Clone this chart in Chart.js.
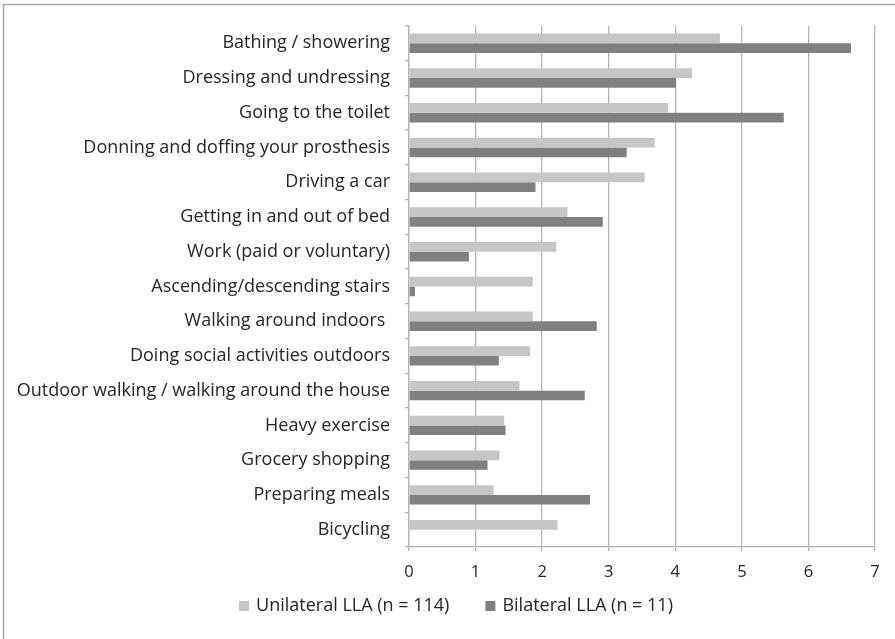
<!DOCTYPE html>
<html>
<head>
<meta charset="utf-8">
<script src="https://cdn.jsdelivr.net/npm/chart.js@4.4.1/dist/chart.umd.min.js"></script>
<style>
  html, body { margin: 0; padding: 0; background: #ffffff; }
  #wrap { position: relative; width: 895px; height: 639px; }
</style>
</head>
<body>
<div id="wrap"><canvas id="chart" width="895" height="639"></canvas></div>
<script>
// Activities of daily living, mean score per group
const activities = [
  'Bathing / showering',
  'Dressing and undressing',
  'Going to the toilet',
  'Donning and doffing your prosthesis',
  'Driving a car',
  'Getting in and out of bed',
  'Work (paid or voluntary)',
  'Ascending/descending stairs',
  'Walking around indoors ',
  'Doing social activities outdoors',
  'Outdoor walking / walking around the house',
  'Heavy exercise',
  'Grocery shopping',
  'Preparing meals',
  'Bicycling'
];
const unilateral = [4.67, 4.25, 3.89, 3.69, 3.54, 2.38, 2.21, 1.86, 1.86, 1.82, 1.66, 1.43, 1.36, 1.27, 2.23];
const bilateral  = [6.64, 4.01, 5.63, 3.27, 1.90, 2.91, 0.90, 0.09, 2.82, 1.35, 2.64, 1.45, 1.18, 2.72, 0];
const seriesNames = ['Unilateral LLA (n = 114)', 'Bilateral LLA (n = 11)'];
const xTicks = [0, 1, 2, 3, 4, 5, 6, 7];

const FONT = '"Open Sans", "Liberation Sans", sans-serif';
const TEXT = '#262626';
const GRID = '#b4b4b4';

// Thin frame around the figure (left and top edges)
const framePlugin = {
  id: 'frame',
  beforeDraw(chart) {
    const ctx = chart.ctx;
    ctx.save();
    ctx.strokeStyle = '#a6a6a6';
    ctx.lineWidth = 1.5;
    ctx.beginPath();
    ctx.moveTo(3.5, 639);
    ctx.lineTo(3.5, 4.5);
    ctx.lineTo(895, 4.5);
    ctx.stroke();
    ctx.restore();
  }
};

// Legend row under the axis: square swatch + series name for each dataset
const legendRow = {
  id: 'legendRow',
  afterDraw(chart, args, opts) {
    const ctx = chart.ctx;
    const sets = chart.data.datasets;
    ctx.save();
    ctx.font = opts.fontSize + 'px ' + FONT;
    ctx.textBaseline = 'middle';
    ctx.textAlign = 'left';
    const widths = sets.map(ds => ctx.measureText(ds.label).width);
    const itemW = widths.map(w => opts.box + opts.gap + w);
    const total = itemW.reduce((a, b) => a + b, 0) + opts.spacing * (sets.length - 1);
    let x = opts.centerX - total / 2;
    const y = opts.y;
    sets.forEach((ds, i) => {
      ctx.fillStyle = ds.backgroundColor;
      ctx.fillRect(x, y - opts.box / 2, opts.box, opts.box);
      ctx.fillStyle = TEXT;
      ctx.fillText(ds.label, x + opts.box + opts.gap, y);
      x += itemW[i] + opts.spacing;
    });
    ctx.restore();
  }
};

new Chart(document.getElementById('chart'), {
  type: 'bar',
  data: {
    labels: activities,
    datasets: [
      { label: seriesNames[0], data: unilateral, backgroundColor: '#c6c6c6', borderWidth: 0 },
      { label: seriesNames[1], data: bilateral, backgroundColor: '#808080', borderWidth: 0 }
    ]
  },
  options: {
    indexAxis: 'y',
    responsive: false,
    animation: false,
    categoryPercentage: 0.56,
    barPercentage: 1.0,
    layout: { padding: { left: 0, right: 20, top: 25, bottom: 0 } },
    scales: {
      x: {
        min: 0,
        max: 7,
        afterBuildTicks(scale) { scale.ticks = xTicks.map(v => ({ value: v })); },
        afterFit(scale) { scale.height = 92; },
        grid: { color: GRID, lineWidth: 1.3, tickLength: 4, drawTicks: true },
        border: { color: GRID, width: 1.3 },
        ticks: { color: TEXT, font: { family: FONT, size: 16.5 }, padding: 11 }
      },
      y: {
        afterFit(scale) { scale.width = 409; },
        grid: { drawOnChartArea: false, color: GRID, lineWidth: 1.3, tickLength: 4, offset: true },
        border: { color: GRID, width: 1.3 },
        ticks: { color: TEXT, font: { family: FONT, size: 18 }, padding: 15, autoSkip: false }
      }
    },
    plugins: {
      legend: { display: false },
      tooltip: { enabled: false },
      legendRow: { fontSize: 18, box: 10, gap: 7, spacing: 36, centerX: 456, y: 606 }
    }
  },
  plugins: [framePlugin, legendRow]
});
</script>
</body>
</html>
